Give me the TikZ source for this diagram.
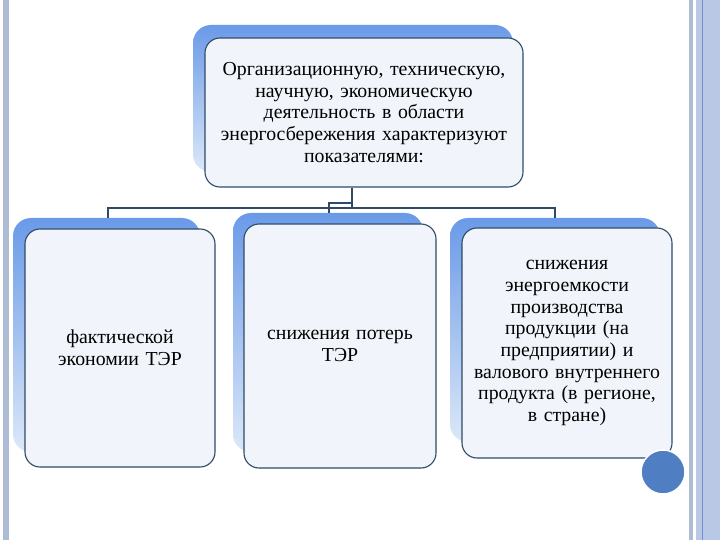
\documentclass[tikz,border=0pt]{standalone}
\usepackage{fontspec}
\setmainfont{Liberation Serif}
\definecolor{shtop}{HTML}{6A9AE8}
\definecolor{shbot}{HTML}{DCE8F8}
\definecolor{edge}{HTML}{2F4A66}
\definecolor{boxfill}{HTML}{F1F5FB}
\definecolor{stripeA}{HTML}{AEBCD3}
\definecolor{stripeB}{HTML}{B9C8E4}
\definecolor{stripeLine}{HTML}{6F8FCB}
\definecolor{dot}{HTML}{4F7FC2}
\begin{document}
\begin{tikzpicture}[x=1pt,y=-1pt,
  sh/.style={rounded corners=18pt, top color=shtop, bottom color=shbot, draw=none, inner sep=0pt},
  box/.style={draw=edge, line width=1.1pt, rounded corners=15pt, fill=boxfill, align=center,
              font=\fontsize{19.8}{21.7}\selectfont, inner sep=0pt},
  link/.style={draw=edge, line width=1.3pt}]
\useasboundingbox (0,0) rectangle (720,540);
\fill[white] (0,0) rectangle (720,540);
% side stripes
\fill[stripeA] (3,0) rectangle (9,540);
\fill[stripeA] (689,0) rectangle (693,540);
\fill[stripeB] (696,0) rectangle (720,540);
\draw[stripeLine, line width=0.8pt] (702,0) -- (702,540);
% shadows
\node[sh, minimum width=320pt, minimum height=147pt] (tsh) at (353,98.5) {};
\node[sh, minimum width=187pt, minimum height=234pt] (lsh) at (106.5,335) {};
\node[sh, minimum width=190pt, minimum height=239pt] (msh) at (328,332.5) {};
\node[sh, minimum width=210pt, minimum height=224pt] (rsh) at (555,330) {};
% boxes
\node[box, minimum width=318pt, minimum height=149pt, text width=310pt] (top) at (364,112.5)
  {Организационную, техническую,\\научную, экономическую\\деятельность в области\\энергосбережения характеризуют\\показателями:};
\node[box, minimum width=190pt, minimum height=238pt, text width=180pt] (left) at (120,348)
  {фактической\\экономии ТЭР};
\node[box, minimum width=192pt, minimum height=244pt, text width=184pt] (mid) at (340,346)
  {снижения потерь\\ТЭР};
\node[box, minimum width=210pt, minimum height=230pt, text width=202pt] (right) at (567,343)
  {снижения\\энергоемкости\\производства\\продукции (на\\предприятии) и\\валового внутреннего\\продукта (в регионе,\\в стране)};
% decorative circle
\node[circle, fill=dot, draw=white, line width=1.5pt, minimum size=44pt, inner sep=0pt] (dotc) at (663,472) {};
% connectors
\coordinate (bus) at (352,208);
\coordinate (jl) at (108,208);
\coordinate (jr) at (555,208);
\coordinate (jm) at (352,203);
\coordinate (jm2) at (329,203);
\draw[link] (top.south -| bus) -- (bus);
\draw[link] (jl |- lsh.north) -- (jl) -- (jr) -- (jr |- rsh.north);
\draw[link] (jm) -- (jm2) -- (jm2 |- msh.north);
\end{tikzpicture}
\end{document}
